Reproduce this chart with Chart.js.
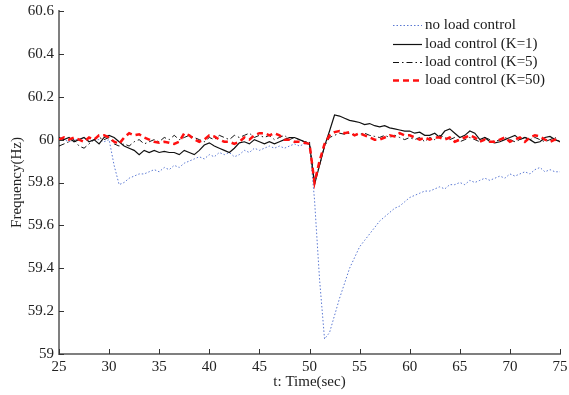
<!DOCTYPE html>
<html>
<head>
<meta charset="utf-8">
<script src="https://cdn.jsdelivr.net/npm/chart.js@4.4.0/dist/chart.umd.min.js"></script>
<style>
  html, body { margin: 0; padding: 0; background: #fff; }
  #freqChart { display: block; }
</style>
</head>
<body>
<canvas id="freqChart" width="569" height="395"></canvas>
<script>
// time axis (sec), 0.5 s steps
const time = [
  25, 25.5, 26, 26.5, 27, 27.5, 28, 28.5, 29, 29.5,
  30, 30.5, 31, 31.5, 32, 32.5, 33, 33.5, 34, 34.5,
  35, 35.5, 36, 36.5, 37, 37.5, 38, 38.5, 39, 39.5,
  40, 40.5, 41, 41.5, 42, 42.5, 43, 43.5, 44, 44.5,
  45, 45.5, 46, 46.5, 47, 47.5, 48, 48.5, 49, 49.5,
  50, 50.5, 51, 51.5, 52, 52.5, 53, 53.5, 54, 54.5,
  55, 55.5, 56, 56.5, 57, 57.5, 58, 58.5, 59, 59.5,
  60, 60.5, 61, 61.5, 62, 62.5, 63, 63.5, 64, 64.5,
  65, 65.5, 66, 66.5, 67, 67.5, 68, 68.5, 69, 69.5,
  70, 70.5, 71, 71.5, 72, 72.5, 73, 73.5, 74, 74.5,
  75
];

const noControl = [
  60.0, 60.0, 59.99, 60.0, 60.0, 60.01, 59.99, 60.0, 60.0, 59.99,
  60.0, 59.88, 59.79, 59.80, 59.82, 59.83, 59.84, 59.84, 59.85, 59.86,
  59.85, 59.87, 59.86, 59.88, 59.87, 59.89, 59.90, 59.91, 59.92, 59.91,
  59.93, 59.92, 59.94, 59.93, 59.94, 59.92, 59.93, 59.95, 59.94, 59.96,
  59.95, 59.96, 59.97, 59.96, 59.97, 59.96, 59.97, 59.98, 59.97, 59.98,
  59.98, 59.72, 59.35, 59.07, 59.10, 59.18, 59.26, 59.33, 59.40, 59.45,
  59.50, 59.53, 59.56, 59.59, 59.62, 59.64, 59.66, 59.68, 59.69, 59.71,
  59.73, 59.74, 59.75, 59.76, 59.76, 59.77, 59.78, 59.77, 59.79, 59.79,
  59.80, 59.79, 59.81, 59.80, 59.81, 59.82, 59.81, 59.82, 59.83, 59.82,
  59.84, 59.83, 59.84, 59.85, 59.84, 59.86, 59.87, 59.85, 59.86, 59.85,
  59.85
];

const controlK1 = [
  60.01, 60.00, 60.01, 59.99, 60.00, 60.01, 59.99, 60.00, 59.98, 60.01,
  60.02, 60.01, 59.99, 59.97, 59.96, 59.95, 59.93, 59.95, 59.94, 59.95,
  59.94, 59.945, 59.94, 59.94, 59.93, 59.95, 59.94, 59.93, 59.95, 59.975,
  59.985, 59.97, 59.96, 59.95, 59.94, 59.96, 59.985, 59.99, 59.98, 60.00,
  59.99, 59.98, 59.99, 59.98, 59.99, 60.00, 60.01, 60.01, 60.00, 59.99,
  59.98, 59.79, 59.88, 59.97, 60.04, 60.115, 60.11, 60.10, 60.09, 60.085,
  60.08, 60.07, 60.075, 60.065, 60.06, 60.065, 60.055, 60.05, 60.045, 60.04,
  60.04, 60.03, 60.035, 60.02, 60.02, 60.03, 60.01, 60.04, 60.05, 60.03,
  60.01, 60.02, 60.04, 60.03, 60.00, 60.01, 59.99, 59.985, 59.99, 60.00,
  60.01, 60.02, 60.00, 60.01, 60.00, 59.985, 59.99, 60.01, 60.015, 60.00,
  59.99
];

const controlK5 = [
  59.97, 59.98, 59.99, 60.00, 59.97, 59.96, 59.98, 60.00, 60.01, 60.00,
  60.01, 59.98, 59.97, 59.98, 59.97, 59.99, 60.00, 59.98, 59.99, 60.00,
  59.99, 60.01, 60.00, 60.02, 60.00, 60.01, 60.02, 60.01, 60.00, 59.99,
  60.01, 60.00, 60.02, 60.01, 60.00, 60.02, 60.01, 60.02, 60.03, 60.01,
  60.02, 60.01, 60.02, 60.00, 60.01, 60.02, 60.00, 60.01, 60.00, 59.99,
  59.99, 59.80, 59.88, 59.97, 60.01, 60.02, 60.03, 60.025, 60.03, 60.02,
  60.025, 60.03, 60.02, 60.015, 60.01, 60.02, 60.01, 60.02, 60.01, 60.00,
  60.01, 60.00, 60.01, 59.99, 60.01, 60.00, 60.02, 60.01, 60.00, 60.01,
  59.99, 60.00, 60.01, 60.00, 59.99, 60.01, 60.00, 59.99, 60.00, 60.01,
  60.00, 59.99, 60.00, 60.01, 60.00, 60.01, 60.00, 59.99, 60.00, 60.01,
  59.99
];

const controlK50 = [
  60.00, 60.01, 60.00, 60.01, 60.00, 59.99, 60.01, 60.00, 60.02, 60.02,
  60.01, 59.99, 59.98, 60.01, 60.03, 60.02, 60.025, 60.01, 60.00, 59.99,
  59.985, 59.99, 59.985, 59.98, 59.99, 60.03, 60.02, 60.00, 59.99, 60.00,
  60.02, 60.015, 60.00, 59.99, 59.99, 59.98, 59.99, 60.01, 60.00, 60.02,
  60.03, 60.03, 60.02, 60.03, 60.02, 60.00, 60.00, 59.99, 59.99, 59.985,
  59.98, 59.80, 59.90, 59.98, 60.02, 60.035, 60.04, 60.03, 60.035, 60.02,
  60.03, 60.02, 60.01, 60.00, 60.00, 60.01, 60.02, 60.015, 60.03, 60.02,
  60.02, 60.01, 60.00, 60.01, 60.00, 60.01, 60.01, 60.00, 60.01, 59.99,
  60.00, 60.01, 60.02, 60.01, 59.99, 60.00, 59.99, 59.99, 60.00, 60.01,
  59.99, 60.00, 60.01, 59.99, 60.01, 60.02, 60.015, 60.00, 59.99, 60.00,
  59.99
];

const seriesNames = ['no load control', 'load control (K=1)', 'load control (K=5)', 'load control (K=50)'];

const serif = '"Liberation Serif", "Times New Roman", serif';
const axisGray = '#7f7f7f';

const toPoints = vals => vals.map((v, i) => ({ x: time[i], y: v }));

// small inward tick marks, like the original plot
const innerTicks = {
  id: 'innerTicks',
  afterDraw(chart) {
    const { ctx, chartArea, scales } = chart;
    ctx.save();
    ctx.strokeStyle = '#333';
    ctx.lineWidth = 1;
    ctx.beginPath();
    scales.x.ticks.forEach(t => {
      const px = Math.round(scales.x.getPixelForValue(t.value)) + 0.5;
      ctx.moveTo(px, chartArea.bottom);
      ctx.lineTo(px, chartArea.bottom - 5);
    });
    scales.y.ticks.forEach(t => {
      const py = Math.round(scales.y.getPixelForValue(t.value)) + 0.5;
      ctx.moveTo(chartArea.left, py);
      ctx.lineTo(chartArea.left + 5, py);
    });
    ctx.stroke();
    ctx.restore();
  }
};

// legend in the upper right corner, no box
const cornerLegend = {
  id: 'cornerLegend',
  afterDraw(chart) {
    const { ctx } = chart;
    const x0 = 393, x1 = 422, rowY = [25, 44, 62, 80];
    ctx.save();
    ctx.font = '15px ' + serif;
    ctx.textBaseline = 'middle';
    chart.data.datasets.forEach((ds, i) => {
      const y = rowY[i] + 0.5;
      ctx.strokeStyle = ds.borderColor;
      ctx.lineWidth = ds.borderWidth;
      ctx.setLineDash(ds.borderDash || []);
      ctx.beginPath();
      ctx.moveTo(x0, y);
      ctx.lineTo(x1, y);
      ctx.stroke();
      ctx.setLineDash([]);
      ctx.fillStyle = '#1a1a1a';
      ctx.fillText(ds.label, x1 + 3, rowY[i]);
    });
    ctx.restore();
  }
};

new Chart(document.getElementById('freqChart').getContext('2d'), {
  type: 'line',
  data: {
    datasets: [
      {
        label: seriesNames[0],
        data: toPoints(noControl),
        borderColor: '#5a78d2',
        borderWidth: 1,
        borderDash: [1.5, 2],
        order: 3
      },
      {
        label: seriesNames[1],
        data: toPoints(controlK1),
        borderColor: '#111',
        borderWidth: 1.2,
        order: 2
      },
      {
        label: seriesNames[2],
        data: toPoints(controlK5),
        borderColor: '#111',
        borderWidth: 1,
        borderDash: [6, 3, 1.5, 3],
        order: 1
      },
      {
        label: seriesNames[3],
        data: toPoints(controlK50),
        borderColor: '#ff1010',
        borderWidth: 2.5,
        borderDash: [6, 4],
        order: 0
      }
    ]
  },
  options: {
    responsive: false,
    animation: false,
    layout: { padding: 0 },
    elements: {
      point: { radius: 0 },
      line: { tension: 0, fill: false }
    },
    plugins: {
      legend: { display: false },
      tooltip: { enabled: false }
    },
    scales: {
      x: {
        type: 'linear',
        min: 25,
        max: 75,
        afterFit: scale => {
          scale.height = 41;
          scale.paddingRight = 9;
        },
        border: { display: true, color: axisGray, width: 2 },
        grid: { display: true, drawOnChartArea: false, drawTicks: false },
        ticks: {
          stepSize: 5,
          padding: 4,
          color: '#222',
          font: { family: serif, size: 15 }
        },
        title: {
          display: true,
          text: 't: Time(sec)',
          color: '#222',
          padding: { top: 0, bottom: 4 },
          font: { family: serif, size: 15 }
        }
      },
      y: {
        min: 59,
        max: 60.6,
        afterFit: scale => {
          scale.width = 59;
          scale.paddingTop = 11;
        },
        border: { display: true, color: axisGray, width: 2 },
        grid: { display: true, drawOnChartArea: false, drawTicks: false },
        ticks: {
          stepSize: 0.2,
          padding: 5,
          color: '#222',
          font: { family: serif, size: 15 },
          callback: v => String(Number(v.toFixed(1)))
        },
        title: {
          display: true,
          text: 'Frequency(Hz)',
          color: '#222',
          padding: { top: 8, bottom: 0 },
          font: { family: serif, size: 15 }
        }
      }
    }
  },
  plugins: [innerTicks, cornerLegend]
});
</script>
</body>
</html>
